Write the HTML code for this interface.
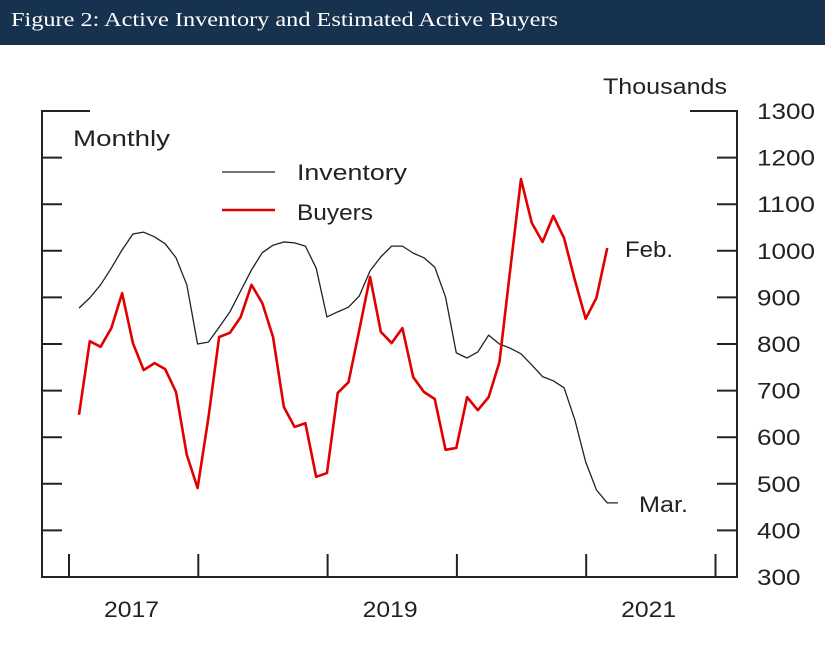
<!DOCTYPE html>
<html><head><meta charset="utf-8"><style>
body{margin:0;width:825px;height:649px;background:#fff;overflow:hidden}
#hdr{position:absolute;left:0;top:0;width:825px;height:45px;background:#17324f}
svg{position:absolute;left:0;top:0}
text{font-family:"Liberation Sans",sans-serif;font-size:22px;fill:#222}
</style></head><body>
<div id="hdr"></div>
<svg id="c" width="825" height="649">
<text x="11" y="26" textLength="547" lengthAdjust="spacingAndGlyphs" style="font-family:'Liberation Serif',serif;font-size:20px;fill:#fff">Figure 2: Active Inventory and Estimated Active Buyers</text>
</svg>
<script>
const buyers=[648,806,794,834,909,802,744,759,746,697,562,491,641,815,824,858,927,888,815,665,622,630,515,523,695,718,830,944,826,802,834,729,697,682,573,577,686,658,686,761,959,1154,1060,1019,1075,1027,937,854,899,1006];
const inventory=[877,899,927,963,1002,1036,1040,1030,1015,985,927,800,804,836,869,914,959,996,1012,1019,1017,1010,963,858,869,879,903,957,987,1010,1010,995,985,965,901,781,770,783,819,800,791,779,755,730,721,706,637,547,487,459,459];
const yTicks=[300,400,500,600,700,800,900,1000,1100,1200,1300];
const yearLabels=["2017","2019","2021"];
const yearLabelIdx=[0,2,4];
const NS='http://www.w3.org/2000/svg';
const svg=document.getElementById('c');
const y=v=>111+(1300-v)*0.466;
const x=i=>79+i*10.78;
const yearX=k=>69+k*129.3;
function mk(t,a){const e=document.createElementNS(NS,t);for(const k in a)e.setAttribute(k,a[k]);svg.appendChild(e);return e;}
let e;
e=mk('path',{d:'M90,111H42V577H737V111H690',fill:'none',stroke:'#222','stroke-width':2});


yTicks.forEach(v=>{
 if(v>300&&v<1300){e=mk('line',{x1:42,x2:62,y1:y(v),y2:y(v),stroke:'#222','stroke-width':2});
 
 }
 if(v>300&&v<1300){e=mk('line',{x1:717,x2:737,y1:y(v),y2:y(v),stroke:'#222','stroke-width':2});
 
 }
 const t=String(v);
 e=mk('text',{x:757,y:y(v)+8,textLength:t.length*14.5,lengthAdjust:'spacingAndGlyphs'});e.textContent=t;
 
 
});
for(let k=0;k<6;k++){e=mk('line',{x1:yearX(k),x2:yearX(k),y1:577,y2:554,stroke:'#222','stroke-width':2});
 
 }
yearLabels.forEach((s,j)=>{e=mk('text',{x:yearX(yearLabelIdx[j])+35,y:617,textLength:55,lengthAdjust:'spacingAndGlyphs'});e.textContent=s;
 
 });
function line(arr,col,w,name){e=mk('polyline',{points:arr.map((v,i)=>x(i)+','+y(v)).join(' '),fill:'none',stroke:col,'stroke-width':w,'stroke-linejoin':'round'});
 
 }
line(inventory,'#222',1.3,'inventory-line');
line(buyers,'#e00000',2.6,'buyers-line');
const labels=[[603,94,'Thousands','#222','y-axis-title',124],[73,146,'Monthly','#222','frequency-label',97],[297,180,'Inventory','#222','legend-inventory-label',110],[297,220,'Buyers','#e00000','legend-buyers-label',76],[625,257,'Feb.','#222','feb-annotation',48],[639,512,'Mar.','#222','mar-annotation',49]];
labels.forEach(l=>{e=mk('text',{x:l[0],y:l[1],fill:l[3],textLength:l[5],lengthAdjust:'spacingAndGlyphs'});e.textContent=l[2];
 
 });
e=mk('line',{x1:222,x2:275,y1:172,y2:172,stroke:'#222','stroke-width':1.3});


e=mk('line',{x1:222,x2:275,y1:210,y2:210,stroke:'#e00000','stroke-width':2.6});


</script>
</body></html>
